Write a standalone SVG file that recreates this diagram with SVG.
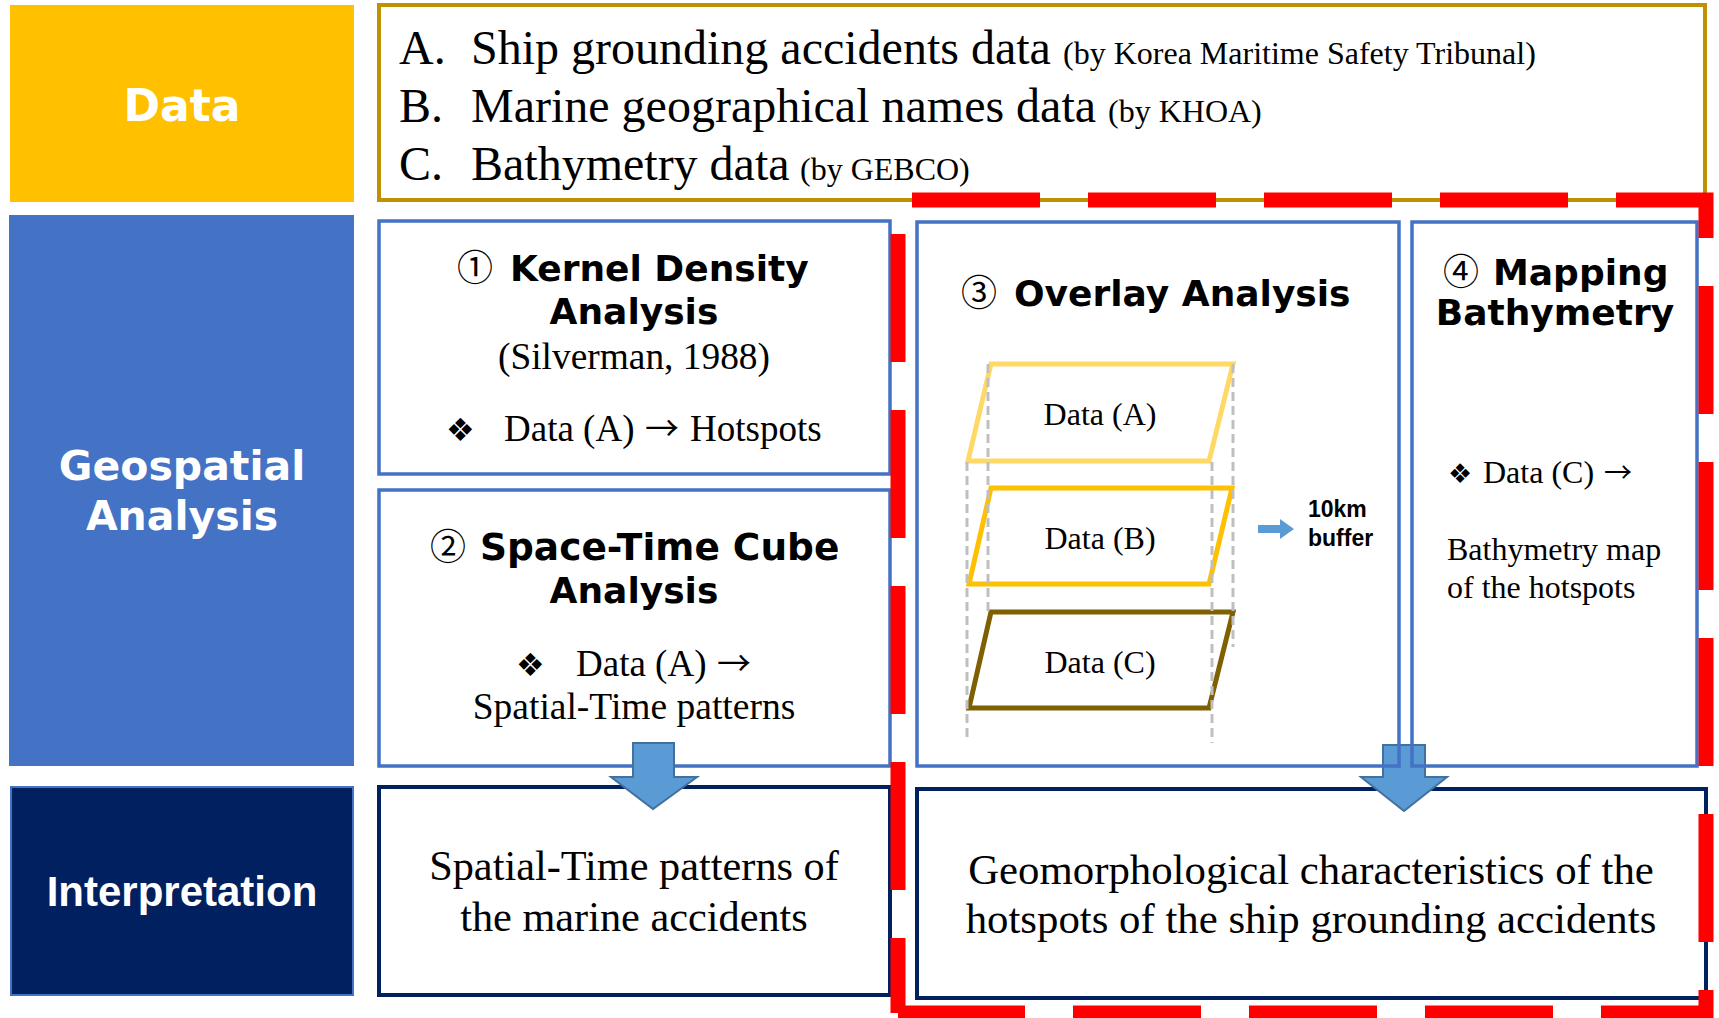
<svg xmlns="http://www.w3.org/2000/svg" width="1719" height="1018" viewBox="0 0 1719 1018">
<style>
.serif{font-family:"Liberation Serif","Times New Roman",serif;fill:#000}
.head{font-family:"DejaVu Sans",sans-serif;font-weight:bold;fill:#000;font-size:36px}
.num{font-family:"Noto Sans CJK JP","DejaVu Sans",sans-serif;font-size:36px;fill:#000}
.lbl{font-family:"DejaVu Sans",sans-serif;font-weight:bold;fill:#fff}
.sym{font-family:"DejaVu Sans",sans-serif}
.arr{font-family:"Noto Sans CJK JP","DejaVu Sans",sans-serif}
.box{fill:none;stroke:#4472C4;stroke-width:3.5}
.ibox{fill:#fff;stroke:#002060;stroke-width:4}
.layer{fill:#fff;stroke-width:5}
.guide{stroke:#BFBFBF;stroke-width:3;stroke-dasharray:9 5;fill:none}
.bigarrow{fill:#5B9BD5;stroke:#41719C;stroke-width:2}
.red{fill:none;stroke:#FF0000;stroke-width:15;stroke-dasharray:128 48}
</style>
<rect width="1719" height="1018" fill="#fff"/>

<g id="row-data">
  <rect x="10" y="5" width="344" height="197" fill="#FFC000"/>
  <text class="lbl" x="182" y="121" font-size="44" text-anchor="middle">Data</text>
</g>
<g id="row-geospatial">
  <rect x="9" y="215" width="345" height="551" fill="#4472C4"/>
  <text class="lbl" x="182" y="480" font-size="41" text-anchor="middle">Geospatial</text>
  <text class="lbl" x="182" y="530" font-size="41" text-anchor="middle">Analysis</text>
</g>
<g id="row-interpretation">
  <rect x="11" y="787" width="342" height="208" fill="#002060" stroke="#4472C4" stroke-width="2"/>
  <text x="182" y="906" font-size="42" text-anchor="middle" style="font-family:'Liberation Sans',Arial,sans-serif;font-weight:bold;fill:#fff">Interpretation</text>
</g>

<g id="data-sources">
  <rect x="379" y="5" width="1326" height="195" fill="#fff" stroke="#BF9000" stroke-width="4"/>
  <text class="serif" font-size="48" x="399" y="64">A.</text>
  <text class="serif" font-size="48" x="471" y="64">Ship grounding accidents data <tspan x="1063" font-size="32">(by Korea Maritime Safety Tribunal)</tspan></text>
  <text class="serif" font-size="48" x="399" y="122">B.</text>
  <text class="serif" font-size="48" x="471" y="122">Marine geographical names data <tspan x="1108" font-size="32">(by KHOA)</tspan></text>
  <text class="serif" font-size="48" x="399" y="180">C.</text>
  <text class="serif" font-size="48" x="471" y="180">Bathymetry data <tspan x="800" font-size="32">(by GEBCO)</tspan></text>
</g>

<g id="interp-left">
  <rect class="ibox" x="379" y="787" width="511" height="208"/>
  <text class="serif" font-size="42.3" x="634" y="880" text-anchor="middle">Spatial-Time patterns of</text>
  <text class="serif" font-size="42.3" x="634" y="931" text-anchor="middle">the marine accidents</text>
</g>
<g id="interp-right">
  <rect class="ibox" x="917" y="789" width="789" height="209"/>
  <text class="serif" font-size="42.8" x="1311" y="884" text-anchor="middle">Geomorphological characteristics of the</text>
  <text class="serif" font-size="42.8" x="1311" y="933" text-anchor="middle">hotspots of the ship grounding accidents</text>
</g>

<g id="kernel-density">
  <rect class="box" x="379" y="221" width="511" height="253" fill="#fff"/>
  <text class="num" x="457" y="281">①</text>
  <text class="head" x="510" y="281">Kernel Density</text>
  <text class="head" x="634" y="324" text-anchor="middle">Analysis</text>
  <text class="serif" font-size="37.4" x="634" y="369" text-anchor="middle">(Silverman, 1988)</text>
  <text class="serif" font-size="37" y="441"><tspan class="sym" x="446" font-size="32">❖</tspan><tspan x="504">Data (A)</tspan><tspan class="arr" x="645" font-size="34">→</tspan><tspan x="690">Hotspots</tspan></text>
</g>

<g id="space-time-cube">
  <rect class="box" x="379" y="490" width="511" height="276" fill="#fff"/>
  <text class="num" x="430" y="560">②</text>
  <text class="head" x="480" y="560" style="font-size:37.5px">Space-Time Cube</text>
  <text class="head" x="634" y="603" text-anchor="middle">Analysis</text>
  <text class="serif" font-size="37" y="676"><tspan class="sym" x="516" font-size="32">❖</tspan><tspan x="576">Data (A)</tspan><tspan class="arr" x="717" font-size="34">→</tspan></text>
  <text class="serif" font-size="37.5" x="634" y="719" text-anchor="middle">Spatial-Time patterns</text>
</g>

<g id="connectors">
  <polygon class="bigarrow" points="633,743 674,743 674,777 697,777 653,809 611,777 633,777"/>
  <polygon class="bigarrow" points="1383,745 1425,745 1425,777 1447,777 1404,811 1361,777 1383,777"/>
  <polygon fill="#5B9BD5" points="1258,525 1280,525 1280,519 1294,529 1280,539 1280,533 1258,533"/>
</g>

<g id="overlay-analysis">
  <rect class="box" x="917" y="222" width="482" height="544"/>
  <text class="num" x="961" y="306">③</text>
  <text class="head" x="1014" y="306">Overlay Analysis</text>
  <polygon class="layer" stroke="#FFD966" points="991,364 1233,364 1209,461 968,461"/>
  <polygon class="layer" stroke="#FFC000" points="991,488 1232,488 1209,584 969,584"/>
  <polygon class="layer" stroke="#7F6000" points="991,612 1233,612 1209,708 969,708"/>
  <line class="guide" x1="967" y1="462" x2="967" y2="737"/>
  <line class="guide" x1="988" y1="364" x2="988" y2="614"/>
  <line class="guide" x1="1212" y1="462" x2="1212" y2="743"/>
  <line class="guide" x1="1233" y1="364" x2="1233" y2="647"/>
  <text class="serif" font-size="32" x="1100" y="425" text-anchor="middle">Data (A)</text>
  <text class="serif" font-size="32" x="1100" y="549" text-anchor="middle">Data (B)</text>
  <text class="serif" font-size="32" x="1100" y="673" text-anchor="middle">Data (C)</text>
  <text x="1308" y="517" font-size="23" style="font-family:'Liberation Sans',Arial,sans-serif;font-weight:bold">10km</text>
  <text x="1308" y="546" font-size="23" style="font-family:'Liberation Sans',Arial,sans-serif;font-weight:bold">buffer</text>
</g>

<g id="mapping-bathymetry">
  <rect class="box" x="1412" y="222" width="285" height="544"/>
  <text class="num" x="1443" y="285">④</text>
  <text class="head" x="1493" y="285">Mapping</text>
  <text class="head" x="1555" y="325" text-anchor="middle">Bathymetry</text>
  <text class="serif" font-size="32" y="483"><tspan class="sym" x="1448" font-size="27">❖</tspan><tspan x="1483">Data (C)</tspan><tspan class="arr" x="1604" font-size="28">→</tspan></text>
  <text class="serif" font-size="32" x="1447" y="560">Bathymetry map</text>
  <text class="serif" font-size="32" x="1447" y="598">of the hotspots</text>
</g>

<g id="highlight-frame">
  <path class="red" d="M898,200 H1706 V1013 H898" stroke-dashoffset="162"/>
  <path class="red" d="M898,200 V1013" stroke-dashoffset="142"/>
</g>
</svg>
